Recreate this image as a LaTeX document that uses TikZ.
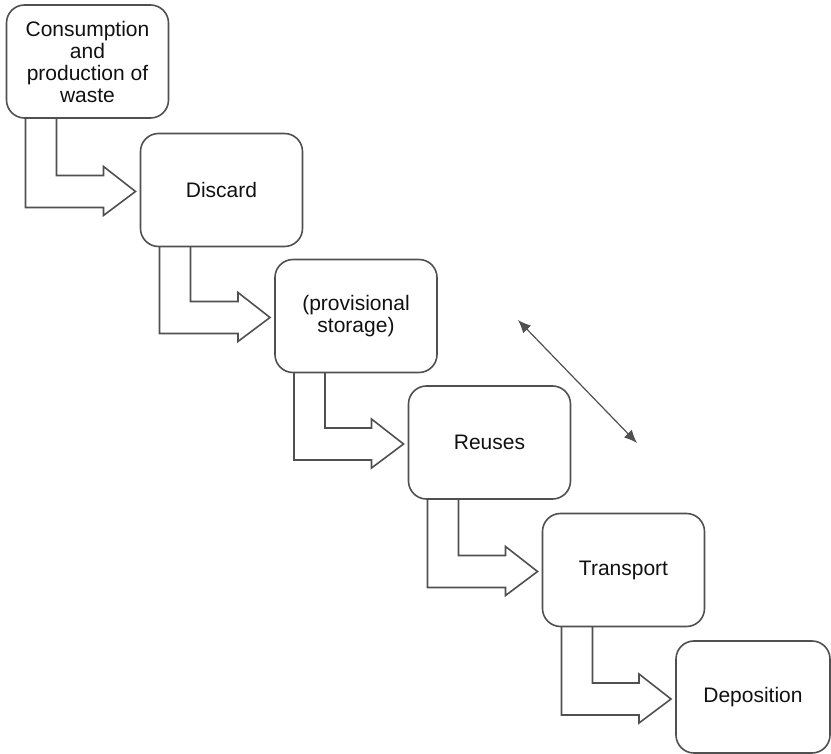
\documentclass[tikz,border=0pt]{standalone}
\usepackage{fontspec}
\setmainfont{Liberation Sans}
\usepackage{xcolor}
\usepackage{tikz}
\usetikzlibrary{calc,arrows.meta}
\definecolor{bg}{HTML}{FFFFFF}
\definecolor{ink}{HTML}{111111}
\definecolor{edge}{HTML}{505050}
\tikzset{
  stage/.style={draw=edge, line width=0.8pt, rounded corners=9pt, outer sep=0pt,
    minimum width=81pt, minimum height=56.5pt, inner sep=2pt, align=center,
    text=ink, font=\fontsize{10.5}{11}\selectfont},
  flow/.style={draw=edge, line width=0.8pt, line join=miter},
  link/.style={draw=edge, line width=0.6pt, {Latex[length=6.5pt,width=5.5pt]}-{Latex[length=6.5pt,width=5.5pt]}},
}

\begin{document}
\begin{tikzpicture}[x=0.5pt, y=-0.5pt]
  \useasboundingbox[fill=bg] (0,0) rectangle (831,754);
  % stages of the waste chain
  \node[stage] (consum)    at (87.5,61.5) {Consumption\\and\\production of\\waste};
  \node[stage] (discard)   at (221.5,190) {Discard};
  \node[stage] (storage)   at (356,316)   {(provisional\\storage)};
  \node[stage] (reuses)    at (489.5,442.5) {Reuses};
  \node[stage] (transport) at (623.5,570) {Transport};
  \node[stage, minimum width=77pt, minimum height=56pt] (deposition) at (753,697) {Deposition};
  % bent block arrows between stages
  \foreach \a/\b in {consum/discard,discard/storage,storage/reuses,reuses/transport,transport/deposition}{
    \coordinate (out) at ($(\a.south west)+(19,0)$);
    \coordinate (in)  at ($(\a.south west)+(50,0)$);
    \coordinate (hd)  at ($(\b.north west)+(-37,0)$);
    \coordinate (tip) at ($(\b.north west)+(-5,58)$);
    \draw[flow] (out) -- (out |- {$(hd)+(0,74)$}) -- ($(hd)+(0,74)$) -- ($(hd)+(0,82)$)
      -- (tip) -- ($(hd)+(0,33)$) -- ($(hd)+(0,42)$)
      -- (in |- {$(hd)+(0,42)$}) -- (in);
  }
  % two-way link
  \coordinate (lnkA) at (518,320);
  \coordinate (lnkB) at (637,443);
  \draw[link] (lnkA) -- (lnkB);
\end{tikzpicture}
\end{document}
